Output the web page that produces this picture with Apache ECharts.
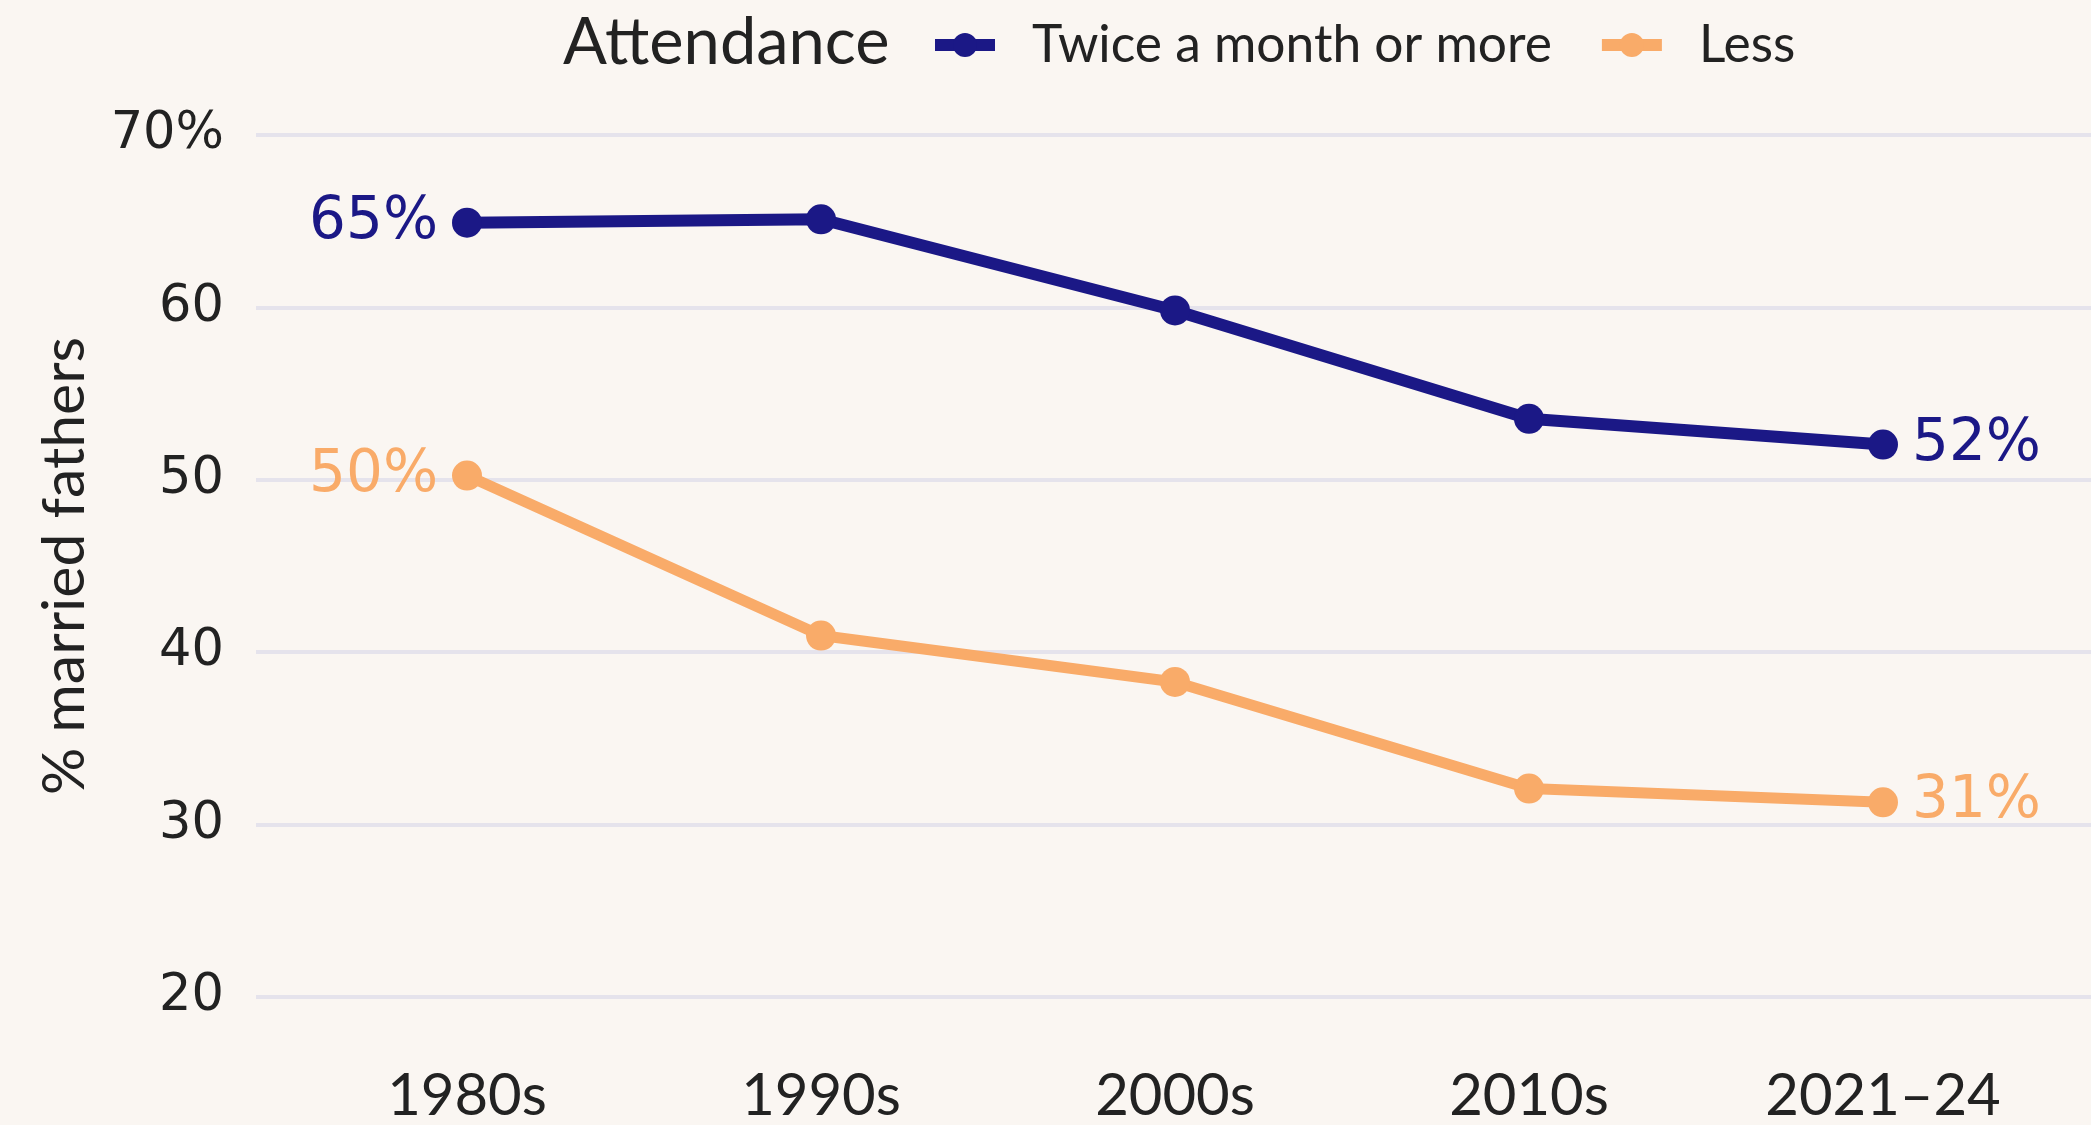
<!DOCTYPE html>
<html>
<head>
<meta charset="utf-8">
<script src="https://cdn.jsdelivr.net/npm/echarts@6/dist/echarts.min.js"></script>
<style>
	html, body { margin: 0; padding: 0; background: #faf6f2; }
	#chart { width: 2091px; height: 1125px; }
</style>
</head>
<body>
<div id="chart"></div>
<script type="text/javascript">
// 数据
var categories = ['1980s', '1990s', '2000s', '2010s', '2021\u201324'];
var twiceValues = [64.9, 65.1, 59.8, 53.5, 52.0];
var lessValues = [50.2, 40.9, 38.2, 32.0, 31.2];
var twiceLabels = ['65%', '', '', '', '52%'];
var lessLabels = ['50%', '', '', '', '31%'];
var yTicks = [20, 30, 40, 50, 60, 70];
var yTickLabels = ['20', '30', '40', '50', '60', '70%'];

var BLUE = '#1b1886';
var ORANGE = '#f9ab69';
var FONT = 'Lato';
var NUM_FONT = 'DejaVu Sans';

// 首尾点加标签
function buildData(values, labels, color) {
	var out = [];
	for (var i = 0; i < values.length; i++) {
		var item = { value: values[i] };
		if (labels[i]) {
			item.label = {
				show: true,
				position: i == 0 ? 'left' : 'right',
				distance: 14,
				formatter: labels[i],
				color: color,
				fontSize: 58,
				fontFamily: NUM_FONT
			};
		}
		out.push(item);
	}
	return out;
}

var myChart = echarts.init(document.getElementById('chart'));
var options = {
	backgroundColor: '#faf6f2',
	animation: false,
	title: {
		text: 'Attendance',
		left: 558,
		top: 6,
		textStyle: { fontSize: 65, fontWeight: 'normal', color: '#222', fontFamily: FONT }
	},
	legend: {
		left: 924,
		top: 14,
		itemWidth: 60,
		itemHeight: 30,
		itemGap: 44,
		lineStyle: { width: 12 },
		textStyle: { fontSize: 51.5, color: '#222', fontFamily: FONT, padding: [0, 0, 0, 32] },
		data: ['Twice a month or more', 'Less']
	},
	grid: [
		{ left: 290, right: 31, top: 135, bottom: 128 },
		{ left: 256, right: 0, top: 135, bottom: 128 }
	],
	xAxis: [
		{
			type: 'category',
			gridIndex: 0,
			data: categories,
			boundaryGap: true,
			axisLine: { show: false },
			axisTick: { show: false },
			axisLabel: { margin: 72, fontSize: 58, color: '#222', fontFamily: FONT }
		},
		{ type: 'value', gridIndex: 1, show: false, min: 0, max: 1 }
	],
	yAxis: [
		{ type: 'value', gridIndex: 0, min: 20, max: 70, interval: 10, show: false },
		{
			type: 'value',
			gridIndex: 1,
			min: 20,
			max: 70,
			interval: 10,
			name: '% married fathers',
			nameLocation: 'middle',
			nameGap: 162,
			nameTextStyle: { fontSize: 59, color: '#222', fontFamily: FONT },
			axisLine: { show: false },
			axisTick: { show: false },
			axisLabel: {
				margin: 32,
				fontSize: 51,
				color: '#222',
				fontFamily: NUM_FONT,
				formatter: function (v) {
					var idx = yTicks.indexOf(v);
					return idx >= 0 ? yTickLabels[idx] : '';
				}
			},
			splitLine: { lineStyle: { color: '#e5e3ec', width: 4 } }
		}
	],
	series: [
		{
			name: 'Twice a month or more',
			type: 'line',
			xAxisIndex: 0,
			yAxisIndex: 0,
			data: buildData(twiceValues, twiceLabels, BLUE),
			color: BLUE,
			symbol: 'circle',
			symbolSize: 30,
			lineStyle: { width: 12, color: BLUE },
			itemStyle: { color: BLUE },
			z: 3
		},
		{
			name: 'Less',
			type: 'line',
			xAxisIndex: 0,
			yAxisIndex: 0,
			data: buildData(lessValues, lessLabels, ORANGE),
			color: ORANGE,
			symbol: 'circle',
			symbolSize: 30,
			lineStyle: { width: 11, color: ORANGE },
			itemStyle: { color: ORANGE },
			z: 2
		}
	]
};
myChart.setOption(options);
</script>
</body>
</html>
